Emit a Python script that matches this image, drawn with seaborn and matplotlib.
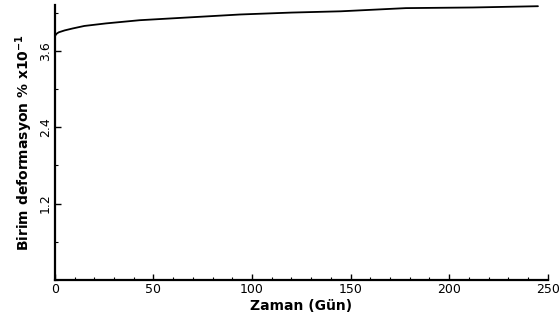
import matplotlib
matplotlib.use("Agg")
import matplotlib.pyplot as plt
import seaborn as sns
import pandas as pd
from matplotlib.ticker import MultipleLocator

# Creep curve: unit strain against time
days = [0, 1, 2, 5, 9, 15, 26, 43, 60, 94, 120, 145, 178, 212, 245]
strain = [3.83, 3.87, 3.89, 3.92, 3.95, 3.99, 4.03, 4.08, 4.11, 4.17, 4.20, 4.22, 4.27, 4.28, 4.30]

x_ticks = [0, 50, 100, 150, 200, 250]
y_ticks = [1.2, 2.4, 3.6]
y_tick_labels = ["1.2", "2.4", "3.6"]

sns.set_theme(style="ticks")
plt.rcParams["font.family"] = ["DejaVu Sans"]
plt.rcParams["text.color"] = "black"
plt.rcParams["axes.labelcolor"] = "black"
plt.rcParams["xtick.color"] = "black"
plt.rcParams["ytick.color"] = "black"

df = pd.DataFrame({"Zaman": days, "Deformasyon": strain})

fig = plt.figure(figsize=(5.59, 3.29), dpi=100)
ax = fig.add_axes([0.098, 0.149, 0.882, 0.836])

sns.lineplot(data=df, x="Zaman", y="Deformasyon", color="black", linewidth=1.3, ax=ax)

ax.set_xlim(0, 250)
ax.set_ylim(0, 4.32)
ax.set_xticks(x_ticks)
ax.set_xticklabels([str(t) for t in x_ticks], fontsize=9)
ax.xaxis.set_minor_locator(MultipleLocator(10))
ax.set_yticks(y_ticks)
ax.set_yticklabels(y_tick_labels, rotation=90, va="center", fontsize=9)
ax.yaxis.set_minor_locator(MultipleLocator(0.6))

ax.tick_params(axis="both", which="major", direction="in", length=4, width=1, pad=2)
ax.tick_params(axis="both", which="minor", direction="in", length=2, width=0.8)

for side in ["top", "right"]:
    ax.spines[side].set_visible(False)
for side in ["left", "bottom"]:
    ax.spines[side].set_color("black")
    ax.spines[side].set_linewidth(1.6)

ax.set_xlabel("Zaman (Gün)", fontsize=10, fontweight="bold", labelpad=2)
ax.set_ylabel("Birim deformasyon % x10$^{\\mathbf{-1}}$", fontsize=10, fontweight="bold", labelpad=3)

fig.savefig("out.png", dpi=100, facecolor="white")
